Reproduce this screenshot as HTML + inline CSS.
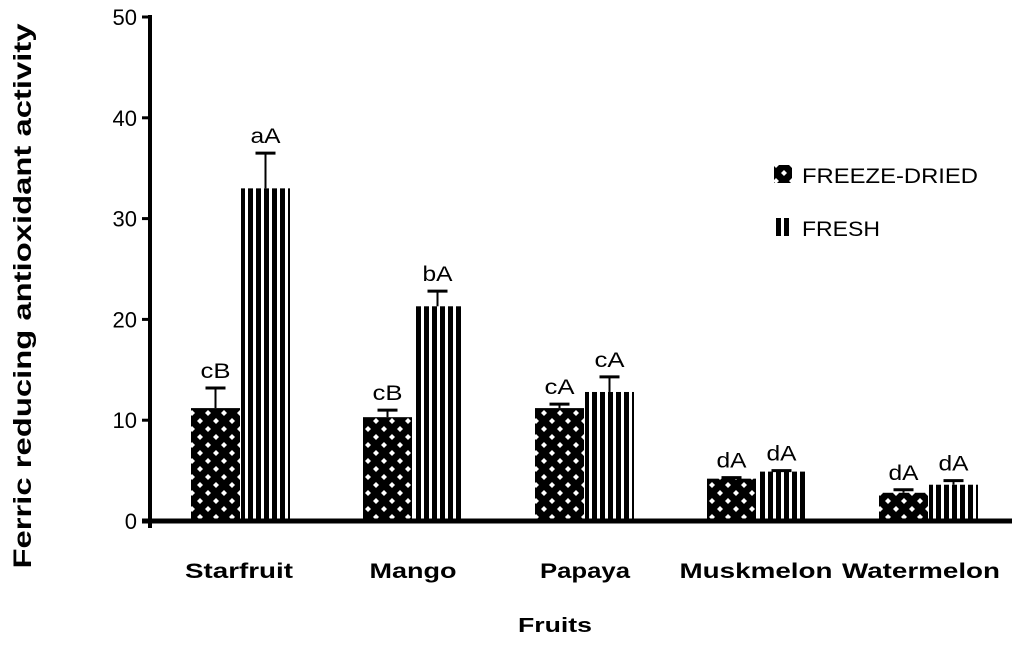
<!DOCTYPE html>
<html><head><meta charset="utf-8"><style>
body{margin:0;background:#fff}
svg text{font-family:"Liberation Sans",sans-serif}
</style></head><body>
<svg id="c" width="1024" height="640">
<defs>
<pattern id="chk" width="16" height="16" patternUnits="userSpaceOnUse">
<rect width="16" height="16" fill="#000"/>
<polygon points="8,2 11,5 8,8 5,5" fill="#fff"/>
<polygon points="0,10 3,13 0,16 -3,13" fill="#fff"/>
<polygon points="16,10 19,13 16,16 13,13" fill="#fff"/>
</pattern>
<pattern id="str" width="8" height="8" patternUnits="userSpaceOnUse">
<rect width="8" height="8" fill="#fff"/><rect x="0" width="5" height="8" fill="#000"/>
</pattern>
</defs>
<g id="plot"></g>
</svg>
<script>
const categories=["Starfruit","Mango","Papaya","Muskmelon","Watermelon"];
const freezeDried=[11.2,10.3,11.2,4.2,2.8];
const fresh=[33,21.3,12.8,4.9,3.6];
const freezeErr=[2,0.7,0.4,0.1,0.3];
const freshErr=[3.5,1.5,1.5,0.1,0.4];
const freezeLetters=["cB","cB","cA","dA","dA"];
const freshLetters=["aA","bA","cA","dA","dA"];
const yTicks=[0,10,20,30,40,50];
const NS="http://www.w3.org/2000/svg";
const g=document.getElementById('plot');
const y0=521,y50=17;
const y=v=>y0-(v/50)*(y0-y50);
const xc=i=>240+i*172;
const bw=49;
const labelWidthStyle=[108,87,90,153,158];
const labelCenterStyle=[239,413,585,756,921];
function el(t,a,txt){const e=document.createElementNS(NS,t);for(const k in a)e.setAttribute(k,a[k]);if(txt!==undefined)e.textContent=txt;g.appendChild(e);return e;}
function fit(e,len){e.setAttribute('textLength',len);e.setAttribute('lengthAdjust','spacingAndGlyphs');}
function bar(x,v,err,fill,lab,nm){
  const r=el('rect',{x:x,y:y(v),width:bw,height:y0-y(v),fill:fill});
  
  
  const cx=x+bw/2;
  el('line',{x1:cx,x2:cx,y1:y(v),y2:y(v+err),stroke:'#000','stroke-width':2});
  el('line',{x1:cx-10,x2:cx+10,y1:y(v+err),y2:y(v+err),stroke:'#000','stroke-width':3});
  const t=el('text',{x:cx,y:y(v+err)-10,'text-anchor':'middle','font-size':21},lab);
  fit(t,lab.length*15);
  
  
}
categories.forEach((c,i)=>{
  bar(xc(i)-bw,freezeDried[i],freezeErr[i],'url(#chk)',freezeLetters[i],'bar-freeze-dried');
  bar(xc(i)+1,fresh[i],freshErr[i],'url(#str)',freshLetters[i],'bar-fresh');
  const t=el('text',{x:labelCenterStyle[i],y:578,'text-anchor':'middle','font-size':21,'font-weight':'bold'},c);
  fit(t,labelWidthStyle[i]);
  
  
});
yTicks.forEach(v=>{
  el('line',{x1:142,x2:150,y1:y(v),y2:y(v),stroke:'#000','stroke-width':3});
  const t=el('text',{x:137,y:y(v)+8,'text-anchor':'end','font-size':22},v);
  
  
});
el('line',{x1:150,x2:150,y1:15,y2:528,stroke:'#000','stroke-width':4});
el('line',{x1:142,x2:1012,y1:521,y2:521,stroke:'#000','stroke-width':5});
let t=el('text',{x:555,y:632,'text-anchor':'middle','font-size':20,'font-weight':'bold'},'Fruits');
fit(t,74);

t=el('text',{x:0,y:0,'text-anchor':'middle','font-size':25,'font-weight':'bold',transform:'translate(31,296) rotate(-90)'},'Ferric reducing antioxidant activity');
fit(t,545);

el('rect',{x:774,y:165,width:18,height:18,fill:'url(#chk)'});
t=el('text',{x:802,y:183,'font-size':21},'FREEZE-DRIED');
fit(t,176);

el('rect',{x:774,y:218,width:18,height:18,fill:'url(#str)'});
t=el('text',{x:802,y:236,'font-size':21},'FRESH');
fit(t,78);

</script>
</body></html>
